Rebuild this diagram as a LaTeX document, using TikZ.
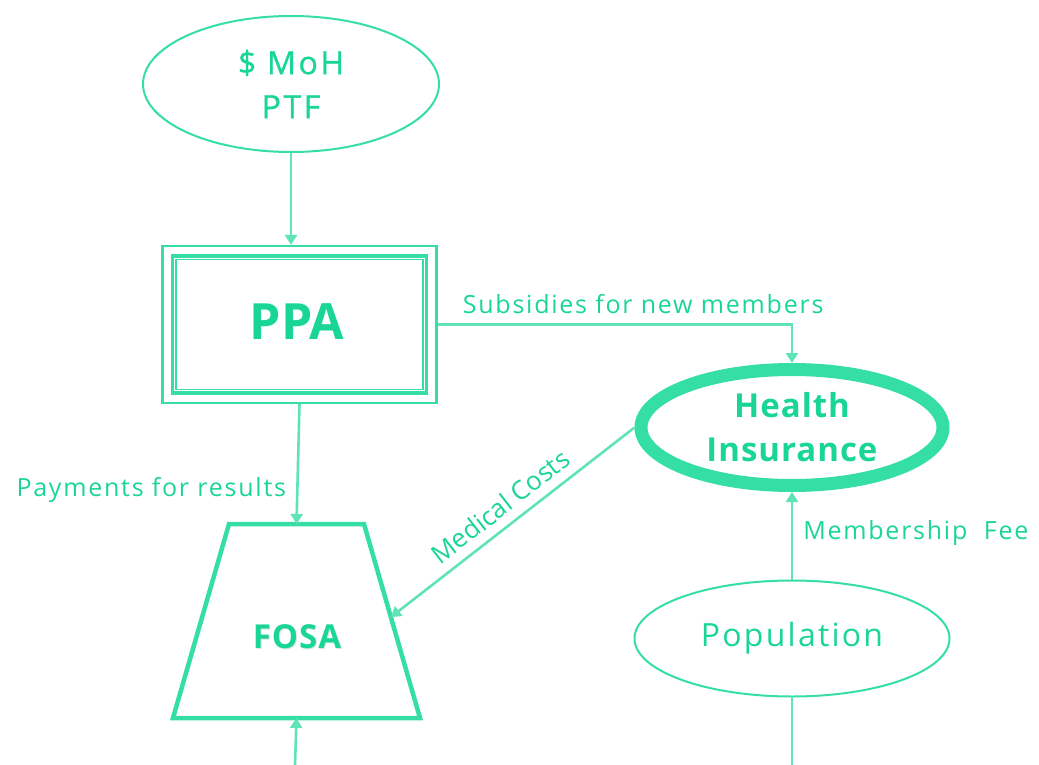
\documentclass[tikz,border=0pt]{standalone}
\usepackage{fontspec}
\setmainfont{Open Sans}
\newfontfamily\spaced{Open Sans}[LetterSpace=7]
\newfontfamily\medspaced{Open Sans}[LetterSpace=8,FakeBold=1]
\newfontfamily\boldspaced{Open Sans}[LetterSpace=3]
\usetikzlibrary{shapes.geometric,arrows.meta,calc}
\definecolor{mint}{RGB}{52,222,164}
\definecolor{minttext}{RGB}{26,214,150}
\definecolor{mintline}{RGB}{96,228,182}
\tikzset{
  lbl/.style={text=minttext,font=\spaced\fontsize{25}{30}\selectfont,inner sep=4pt},
  flow/.style={draw=mintline,line width=2.6pt,-{Triangle[width=12pt,length=10pt]}},
  plainflow/.style={draw=mintline,line width=2.6pt},
  oval/.style={ellipse,draw=mint,text=minttext,align=center,inner sep=0pt},
}
\begin{document}
\begin{tikzpicture}[x=1pt,y=-1pt]
\useasboundingbox (0,0) rectangle (1039,765);

% source of funds
\node[oval,line width=2pt,minimum width=296,minimum height=136,
  font=\medspaced\fontsize{32}{44}\selectfont] (moh) at (291,84) {\$ MoH\\PTF};

% purchasing agency: triple-framed box
\node[draw=mint,line width=2.2pt,minimum width=274,minimum height=157,inner sep=0pt] (ppa) at (299.5,324.5) {};
\draw[mint,line width=3.3pt] ($(ppa.north west)+(11,11)$) rectangle ($(ppa.south east)+(-11,-11)$);
\draw[mint,line width=1.5pt] ($(ppa.north west)+(14.5,14.5)$) rectangle ($(ppa.south east)+(-14.5,-14.5)$);
\node[text=minttext,font=\fontsize{50}{56}\selectfont\bfseries] at (297,322) {PPA};

% health insurance
\node[oval,line width=13pt,minimum width=302,minimum height=116,
  font=\boldspaced\fontsize{33}{44}\selectfont\bfseries] (hi) at (792,427.5) {Health\\Insurance};

% population
\node[oval,line width=2pt,minimum width=315,minimum height=116,
  font=\spaced\fontsize{32}{40}\selectfont] (pop) at (792,638.5) {Population};

% health facility: trapezoid outline
\coordinate (ftl) at (229,524);
\coordinate (ftr) at (364,524);
\coordinate (fbr) at (420,718);
\coordinate (fbl) at (173,718);
\coordinate (ftop) at ($(ftl)!0.5!(ftr)$);
\coordinate (fbot) at ($(fbl)!0.5!(fbr)$);
\coordinate (fside) at ($(ftr)!0.48!(fbr)$);
\draw[mint,line width=4.5pt,line join=miter] (ftl) -- (ftr) -- (fbr) -- (fbl) -- cycle;
% faint drop shadow under the label
\node[text=black!12,font=\boldspaced\fontsize{33}{36}\selectfont\bfseries] at (298,638) {FOSA};
\node[text=minttext,font=\boldspaced\fontsize{33}{36}\selectfont\bfseries] (fosa) at (297,637) {FOSA};

% loose ends at the bottom edge
\coordinate (fosain) at (295,765);
\coordinate (popout) at (792,765);

% flows
\draw[flow] (moh.south) -- (moh.south |- ppa.north);
\draw[flow] (ppa.east) -| node[lbl,pos=0.29,above,yshift=5pt] {Subsidies for new members} (hi.north);
\draw[flow] (ppa.south) -- node[lbl,pos=0.72,left,xshift=-6pt] {Payments for results} (ftop);
\draw[flow] (hi.west) -- node[lbl,font=\fontsize{26}{30}\selectfont,midway,above,sloped,yshift=5pt] {Medical Costs} (fside);
\draw[flow] (pop.north) -- node[lbl,pos=0.53,right,xshift=6pt] {Membership\ \ Fee} (hi.south);
\draw[flow] (fosain) -- (fbot);
\draw[plainflow] (pop.south) -- (popout);
\end{tikzpicture}
\end{document}
